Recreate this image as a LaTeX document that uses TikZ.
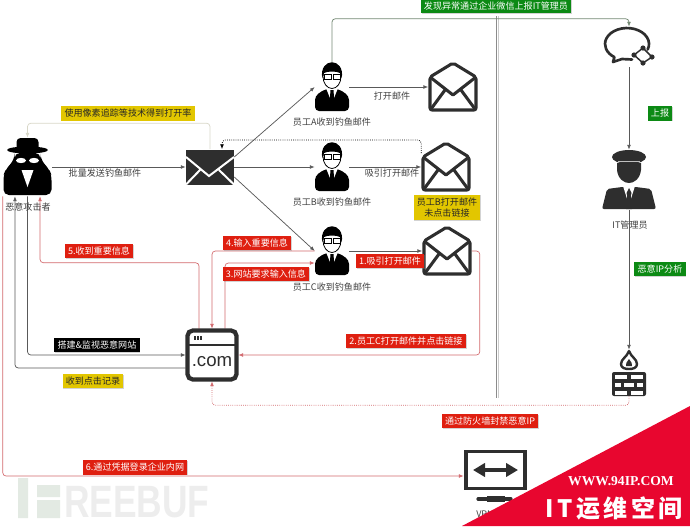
\documentclass[tikz,border=0pt]{standalone}
\usepackage{fontspec}
\setmainfont{Noto Sans CJK SC}
\newfontfamily\bannerfont[LetterSpace=15]{Noto Sans CJK SC}
\newfontfamily\urlfont{Liberation Serif}
\newfontfamily\latinfont{Liberation Sans}
\usepackage{xcolor}
\usetikzlibrary{arrows.meta,shadows}
\definecolor{ink}{HTML}{2E2E2E}
\definecolor{tagred}{HTML}{DF1F10}
\definecolor{taggold}{HTML}{E2C600}
\definecolor{taggreen}{HTML}{0C8A14}
\definecolor{linkred}{HTML}{D2686C}
\definecolor{bannerred}{HTML}{E8062F}
\tikzset{
  staff/.pic={
    \fill[black,rounded corners=3pt] (-17,24) -- (-17,9) -- (-7,2) -- (7,2) -- (17,9) -- (17,24) -- cycle;
    \fill[white] (-6,1) -- (6,1) -- (0,16) -- cycle;
    \fill[black] (-1.5,3) -- (1.5,3) -- (2.2,13) -- (0,19) -- (-2.2,13) -- cycle;
    \draw[black,line width=.6pt,fill=white] (0,-10.5) ellipse[x radius=9,y radius=12];
    \fill[black] (-9.8,-9) .. controls (-13,-30) and (13,-30) .. (9.8,-9) -- (8,-14) .. controls (4,-16) and (-4,-16) .. (-8,-14) -- cycle;
    \draw[black,line width=.5pt] (-8,-12.5) rectangle (-1,-8) (1,-12.5) rectangle (8,-8);
  },
  openmail/.pic={
    \draw[ink,line width=2.3pt,line join=round,rounded corners=1.5pt] (-23,-10) -- (0,-24) -- (23,-10)
      -- (23,23) -- (-23,23) -- cycle;
    \draw[ink,line width=2.3pt,line join=round] (-23,-10) -- (0,8) -- (23,-10)
      (-22,22) -- (-8,3) (22,22) -- (8,3);
  },
  spy/.pic={
    \fill[black,rounded corners=4pt] (-24,28) -- (-24,8) -- (-22,3) -- (-13,-8) -- (-13,-14) -- (13,-14) -- (13,-8)
      -- (22,3) -- (24,8) -- (24,28) -- cycle;
    \fill[black,rounded corners=3pt] (-11,-15) -- (-11,-29) -- (11,-29) -- (11,-15) -- cycle;
    \fill[black] (0,-17) ellipse[x radius=20.5,y radius=3.5];
    \fill[white] (-6.5,-6.5) ellipse[x radius=5,y radius=2.6] (6.5,-6.5) ellipse[x radius=5,y radius=2.6];
    \fill[white] (-6,3) -- (6,3) -- (0,20) -- cycle;
  },
  chat/.pic={
    \draw[ink,line width=2pt,line cap=round,line join=round] (18.7,2.5)
      arc[start angle=20,end angle=-235,x radius=22,y radius=16] -- (-16,15) -- (-7,12) -- (3,12.5);
    \draw[ink,line width=1.1pt] (14,1) -- (5,8) -- (14,16) -- (23,10) -- cycle;
    \foreach \p in {(14,1),(5,8),(14,16),(23,10)}
      \fill[ink] \p circle[radius=2.6];
  },
  officer/.pic={
    \fill[ink] (0,-23) ellipse[x radius=17,y radius=7];
    \fill[ink] (-12,-17) -- (12,-17) -- (12,-10) .. controls (11,-1) and (5,3) .. (0,3)
      .. controls (-5,3) and (-11,-1) .. (-12,-10) -- cycle;
    \draw[black!25,line width=1pt] (-11,-18.5) -- (11,-18.5);
    \fill[ink,rounded corners=1.5pt] (-27,29) -- (-22,9) -- (-7,7) -- (7,7) -- (22,9) -- (27,29) -- cycle;
    \fill[white] (-6,6) -- (6,6) -- (0,25) -- cycle;
    \fill[ink] (0,8) -- (2.5,13) -- (1.8,16) -- (3,29) -- (-3,29) -- (-1.8,16) -- (-2.5,13) -- cycle;
  },
  firewall/.pic={
    \fill[ink,rounded corners=1.5pt] (-17,-1) rectangle (17,23);
    \foreach \x/\y/\w in {-14/1.5/12,2/1.5/12,-14/9.5/6,-5/9.5/10,8/9.5/6,-14/17.5/12,2/17.5/12}
      \fill[white] (\x,\y) rectangle ++(\w,4);
    \draw[ink,line width=1.8pt,line join=round] (0,-22) .. controls (2,-16) and (8,-14) .. (8,-9)
      .. controls (8,-5) and (4,-4) .. (0,-4) .. controls (-4,-4) and (-8,-5) .. (-8,-9)
      .. controls (-8,-14) and (-2,-16) .. cycle;
    \fill[ink] (0,-14) .. controls (2,-11) and (4,-9) .. (3,-7) -- (-3,-7) .. controls (-4,-9) and (-2,-11) .. cycle;
  },
  website/.pic={
    \draw[ink,line width=3.2pt,rounded corners=4pt,fill=white] (-24.5,-24.5) rectangle (24.5,24.5);
    \draw[ink,line width=2.2pt] (-24.5,-10) -- (24.5,-10);
    \foreach \x in {-18,-15,-12}
      \fill[ink] (\x,-19) rectangle ++(2,4);
    \node[font=\latinfont\fontsize{14}{14}\selectfont,text=ink,inner sep=0] (comtext) at (0,7) {.com};
  },
  gateway/.pic={
    \draw[ink,line width=2.6pt] (-29,-18.5) rectangle (30,18.5);
    \draw[{Stealth[length=9pt,width=10pt,inset=0pt]}-{Stealth[length=9pt,width=10pt,inset=0pt]},ink,line width=2.6pt] (-22,0) -- (23,0);
    \draw[ink,line width=2.4pt,line cap=round] (-17,29) -- (16,29);
    \draw[ink,line width=4pt] (-8,29) -- (10,29);
  }
}
\begin{document}
\begin{tikzpicture}[
  x=.75pt,y=-.75pt,>={Latex[length=3.6pt,width=2.8pt]},font=\fontsize{6.8}{8.6}\selectfont,
  plain/.style={text=black!75,align=center,inner sep=0},
  tag/.style={align=center,inner xsep=2.4pt,inner ysep=2.2pt,
    drop shadow={shadow xshift=.6pt,shadow yshift=-.6pt,opacity=.35}},
  redtag/.style={tag,fill=tagred,text=white},
  goldtag/.style={tag,fill=taggold,text=black!85},
  greentag/.style={tag,fill=taggreen,text=white},
  darktag/.style={tag,fill=black,text=white},
  hub/.style={inner sep=0,minimum width=#1*.75pt},
  flow/.style={->,line width=.55pt,draw=black!65,rounded corners=2.5pt},
  redflow/.style={->,line width=.5pt,draw=linkred,rounded corners=2.5pt},
  dotflow/.style={->,line width=.6pt,densely dotted,rounded corners=2.5pt}
]
\useasboundingbox (0,0) rectangle (690,526);

% watermark
\fill[green!25!black!11] (18,478) rectangle (28,518) (37,485) rectangle (60,497) (37,500) rectangle (60,518);
\node[transform shape,xscale=.78,anchor=west,inner sep=0,text=black!7,font=\latinfont\bfseries\fontsize{34}{34}\selectfont] (brand) at (64,502) {REEBUF};

% icon places
\node[hub=49,minimum height=43.5pt] (hacker) at (27.5,167) {};
\node[hub=48,minimum height=26.25pt,fill=ink] (mail) at (210,167) {};
\node[hub=34,minimum height=36pt] (empA) at (332,87) {};
\node[hub=34,minimum height=36pt] (empB) at (332,167) {};
\node[hub=34,minimum height=36pt] (empC) at (332,251) {};
\node[hub=49,minimum height=36pt] (openA) at (453,87) {};
\node[hub=49,minimum height=36pt] (openB) at (446,167) {};
\node[hub=49,minimum height=36pt] (openC) at (447,251) {};
\node[hub=52,minimum height=39pt] (site) at (212,355) {};
\node[hub=50,minimum height=30pt] (wechat) at (629,47) {};
\node[hub=53,minimum height=45pt] (admin) at (629,180) {};
\node[hub=34,minimum height=34.5pt] (wall) at (629,373) {};
\node[hub=62,minimum height=30pt] (vpn) at (495,470) {};

% divider
\draw[black!20,line width=1pt] (498.5,16) -- (498.5,398);
\draw[black!45,line width=1pt] (496.8,16) -- (496.8,398);

% connectors
\draw[flow] (hacker.east) -- (mail.west);
\draw[flow,draw=yellow!30!black!25] (mail.north) -- ++(0,-26) -| (hacker.north);
\draw[flow] ([yshift=7.5pt]mail.east) -- (empA.west);
\draw[flow] (mail.east) -- (empB.west);
\draw[flow] ([yshift=-7.5pt]mail.east) -- (empC.west);
\draw[flow] (empA.east) -- (openA.west);
\draw[flow] (empB.east) -- (openB.west);
\draw[flow] (empC.east) -- (openC.west);
\draw[dotflow] ([yshift=10.5pt]openB.west) -- ++(0,-13) -| ([xshift=9pt]mail.north);
\draw[flow,draw=green!15!black!55] (empA.north) -- ++(0,-44) -| (wechat.north);
\draw[flow] (wechat.south) -- (admin.north);
\draw[flow] (admin.south) -- (wall.north);
\draw[dotflow,draw=linkred] (wall.south) -- ++(0,9) -| (site.south);
\draw[flow] (hacker.south) |- (site.west);
\draw[flow] ([yshift=-9.75pt]site.west) -| ([xshift=-9.4pt]hacker.south);
\draw[redflow] (hacker.south west) |- ([yshift=-4.5pt]vpn.west);
\draw[redflow] ([xshift=-9.75pt]site.north) -- ++(0,-66) -| ([xshift=9.4pt]hacker.south);
\draw[redflow] (empC.west) -| (site.north);
\draw[redflow] ([xshift=9.75pt]site.north) |- ([yshift=-9pt]empC.west);
\draw[redflow] (openC.east) -- ++(8,0) |- (site.east);

% icons
\pic at (hacker) {spy};
\draw[white,line width=1.5pt] (186,157) -- (209,176) -- (234,157) (186,184.5) -- (200,170) (234,184.5) -- (219,170);
\foreach \who in {empA,empB,empC}
  \pic at (\who) {staff};
\foreach \what in {openA,openB,openC}
  \pic at (\what) {openmail};
\pic at (site) {website};
\pic at (wechat) {chat};
\pic at (admin) {officer};
\pic at (wall) {firewall};
\pic at (vpn) {gateway};

% captions
\node[plain] (hackerCap) at (28,207) {恶意攻击者};
\node[plain] (sendCap) at (105,173) {批量发送钓鱼邮件};
\node[plain] (capA) at (332,122) {员工A收到钓鱼邮件};
\node[plain] (capB) at (332,202) {员工B收到钓鱼邮件};
\node[plain] (capC) at (332,287) {员工C收到钓鱼邮件};
\node[plain] (openCapA) at (392,96) {打开邮件};
\node[plain] (openCapB) at (392,173) {吸引打开邮件};
\node[plain] (adminCap) at (630,225) {IT管理员};
\node[plain,anchor=west] (vpnCap) at (476,514) {VPN};

% tags
\node[goldtag] (pixel) at (128,113.5) {使用像素追踪等技术得到打开率};
\node[goldtag] (tagB) at (447,207.5) {员工B打开邮件\\未点击链接};
\node[goldtag] (record) at (93,381) {收到点击记录};
\node[darktag] (build) at (97,345) {搭建\&监视恶意网站};
\node[redtag] (step5) at (99,251) {5.收到重要信息};
\node[redtag] (step4) at (257,243) {4.输入重要信息};
\node[redtag] (step3) at (266,274) {3.网站要求输入信息};
\node[redtag] (step1) at (390,261) {1.吸引打开邮件};
\node[redtag] (step2) at (406,341) {2.员工C打开邮件并点击链接};
\node[redtag] (step6) at (135,467.5) {6.通过凭据登录企业内网};
\node[redtag] (block) at (490,421) {通过防火墙封禁恶意IP};
\node[greentag] (found) at (496,6) {发现异常通过企业微信上报IT管理员};
\node[greentag] (report) at (660,113.5) {上报};
\node[greentag] (analyse) at (660,269) {恶意IP分析};

% banner
\fill[bannerred] (690,406) -- (690,526) -- (462,526) -- cycle;
\node[text=white,inner sep=0,font=\urlfont\bfseries\fontsize{10.2}{11}\selectfont] (url) at (621,481) {WWW.94IP.COM};
\node[text=white,inner sep=0,font=\bannerfont\bfseries\fontsize{18}{18}\selectfont] (brandcn) at (614,508) {IT运维空间};
\end{tikzpicture}
\end{document}
